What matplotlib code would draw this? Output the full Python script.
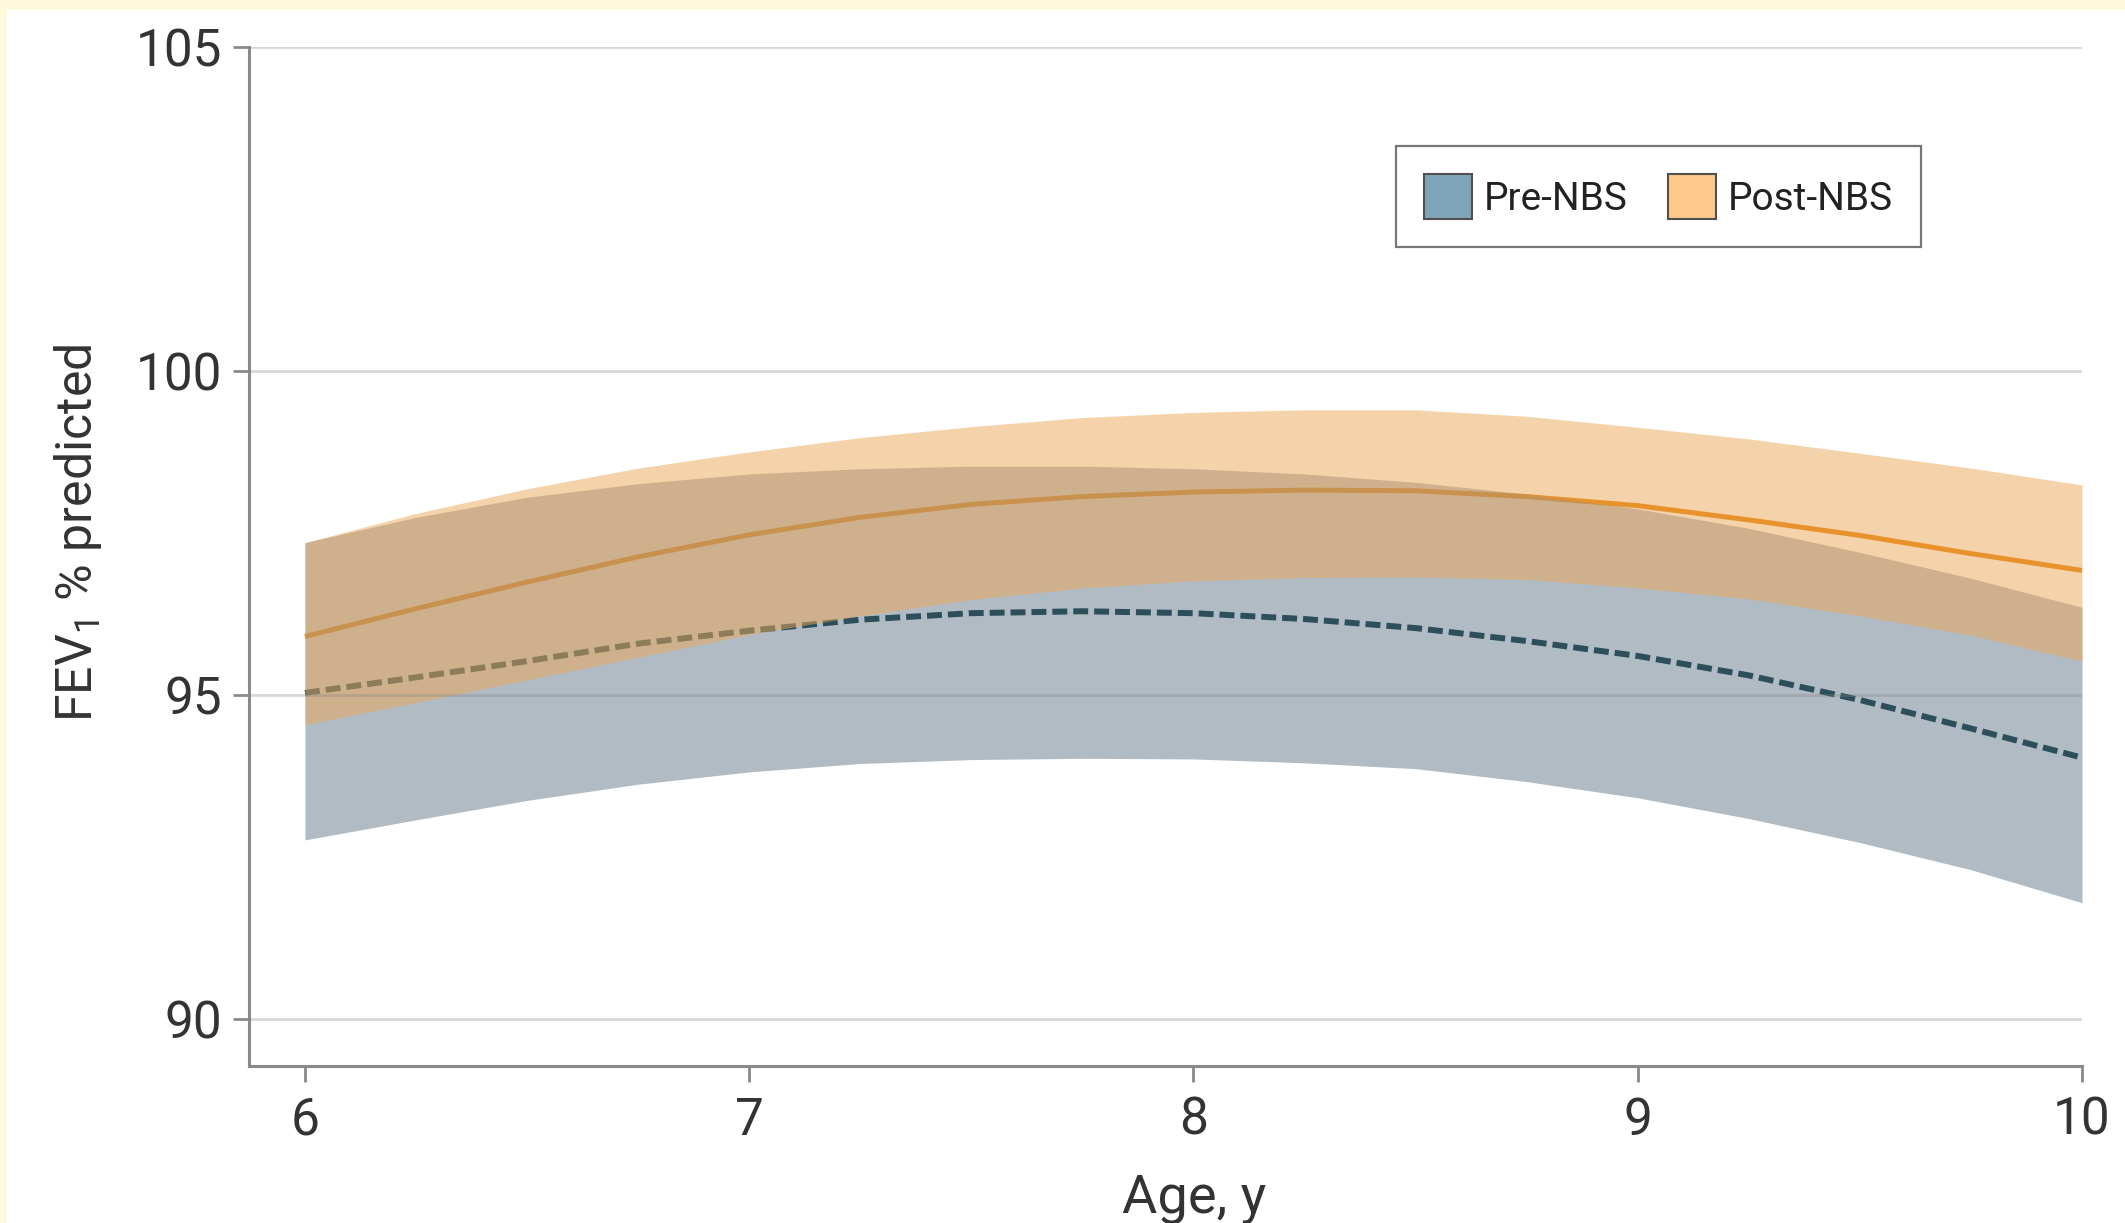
import matplotlib
matplotlib.use("Agg")
import matplotlib.pyplot as plt
from matplotlib import font_manager
from matplotlib.patches import Patch, Rectangle

# ---------------- data ----------------
age = [6.0, 6.25, 6.5, 6.75, 7.0, 7.25, 7.5, 7.75, 8.0,
       8.25, 8.5, 8.75, 9.0, 9.25, 9.5, 9.75, 10.0]
pre_mean = [95.03, 95.27, 95.52, 95.79, 95.99, 96.16, 96.26, 96.29, 96.26,
            96.17, 96.03, 95.83, 95.60, 95.30, 94.92, 94.48, 94.03]
pre_lo = [92.76, 93.07, 93.37, 93.62, 93.81, 93.94, 94.00, 94.02, 94.01,
          93.95, 93.86, 93.66, 93.41, 93.09, 92.72, 92.30, 91.79]
pre_hi = [97.35, 97.74, 98.05, 98.26, 98.41, 98.49, 98.53, 98.53, 98.49,
          98.41, 98.28, 98.10, 97.87, 97.57, 97.20, 96.80, 96.35]
post_mean = [95.90, 96.33, 96.74, 97.13, 97.47, 97.74, 97.94, 98.06, 98.13,
             98.16, 98.15, 98.06, 97.92, 97.70, 97.46, 97.18, 96.92]
post_lo = [94.54, 94.88, 95.23, 95.58, 95.93, 96.22, 96.47, 96.65, 96.76,
           96.81, 96.82, 96.78, 96.65, 96.48, 96.22, 95.92, 95.52]
post_hi = [97.35, 97.80, 98.18, 98.50, 98.75, 98.97, 99.14, 99.28, 99.36,
           99.40, 99.40, 99.30, 99.13, 98.95, 98.73, 98.50, 98.24]
x_ticks = [6, 7, 8, 9, 10]
y_ticks = [90, 95, 100, 105]
series_labels = ["Pre-NBS", "Post-NBS"]

# ---------------- fonts ----------------
available = {f.name for f in font_manager.fontManager.ttflist}
font = "DejaVu Sans"
for cand in ["Roboto", "Lato", "Open Sans", "Noto Sans"]:
    if cand in available:
        font = cand
        break
plt.rcParams["font.family"] = [font, "DejaVu Sans"]
plt.rcParams["mathtext.fontset"] = "custom"
plt.rcParams["mathtext.rm"] = font
plt.rcParams["mathtext.it"] = font
plt.rcParams["mathtext.bf"] = font

W, H, DPI = 2125, 1223, 100
fig = plt.figure(figsize=(W / DPI, H / DPI), dpi=DPI, facecolor="#fef8dc")
fig.add_artist(Rectangle((7 / W, 0), 1, (H - 10) / H, transform=fig.transFigure,
                         facecolor="white", edgecolor="none", zorder=0))

left, right, top, bottom = 249, 2082, 47, 1066
ax = fig.add_axes([left / W, 1 - bottom / H, (right - left) / W, (bottom - top) / H])
ax.set_facecolor("none")

blue_band = "#657989"
orange_band = "#eba957"
orange_line = "#e67b00"
dash_line = "#2d4f5c"

ax.plot(age, post_mean, color=orange_line, lw=3.6, zorder=1, solid_capstyle="butt")
ax.fill_between(age, pre_lo, pre_hi, color=blue_band, alpha=0.5, lw=0, zorder=2)
ax.plot(age, pre_mean, color=dash_line, lw=4.3, zorder=3, dashes=(2.5, 1.0),
        dash_capstyle="butt")
ax.fill_between(age, post_lo, post_hi, color=orange_band, alpha=0.5, lw=0, zorder=4)

for yv in y_ticks:
    ax.axhline(yv, color="#808080", alpha=0.3, lw=2.0, zorder=5)

ax.set_xlim(5.874, 10)
ax.set_ylim(89.27, 105)
ax.set_xticks(x_ticks)
ax.set_yticks(y_ticks)

for s in ["top", "right"]:
    ax.spines[s].set_visible(False)
for s in ["left", "bottom"]:
    ax.spines[s].set_color("#8a8a8a")
    ax.spines[s].set_linewidth(2.2)

ax.tick_params(axis="both", colors="#8a8a8a", width=2.0, length=11.5,
               labelsize=37, labelcolor="#333333")
ax.tick_params(axis="y", pad=8)
ax.tick_params(axis="x", pad=10)

ax.set_ylabel("FEV$_1$ % predicted", fontsize=36, color="#333333")
ax.yaxis.label.set_va("center")
ax.yaxis.set_label_coords((78 - left) / (right - left), (bottom - 533) / (bottom - top))
ax.set_xlabel("Age, y", fontsize=39, color="#333333")
ax.xaxis.label.set_va("baseline")
ax.xaxis.set_label_coords((1194 - left) / (right - left), (bottom - 1212) / (bottom - top))

handles = [Patch(facecolor="#80a5b8", edgecolor="#505050", lw=1.5, label=series_labels[0]),
           Patch(facecolor="#fec98b", edgecolor="#505050", lw=1.5, label=series_labels[1])]
fs = 28
leg = ax.legend(handles=handles, ncol=2, loc="upper left",
                bbox_to_anchor=(1396 / W, 1 - 146 / H), bbox_transform=fig.transFigure,
                borderaxespad=0, fontsize=fs, frameon=True, fancybox=False,
                handlelength=1.23, handleheight=1.42, handletextpad=0.3,
                columnspacing=1.05, borderpad=0.72, labelcolor="#222222")
leg.get_frame().set_edgecolor("#555555")
leg.get_frame().set_linewidth(1.6)
leg.set_zorder(10)

fig.savefig("out.png", dpi=DPI, facecolor=fig.get_facecolor())
